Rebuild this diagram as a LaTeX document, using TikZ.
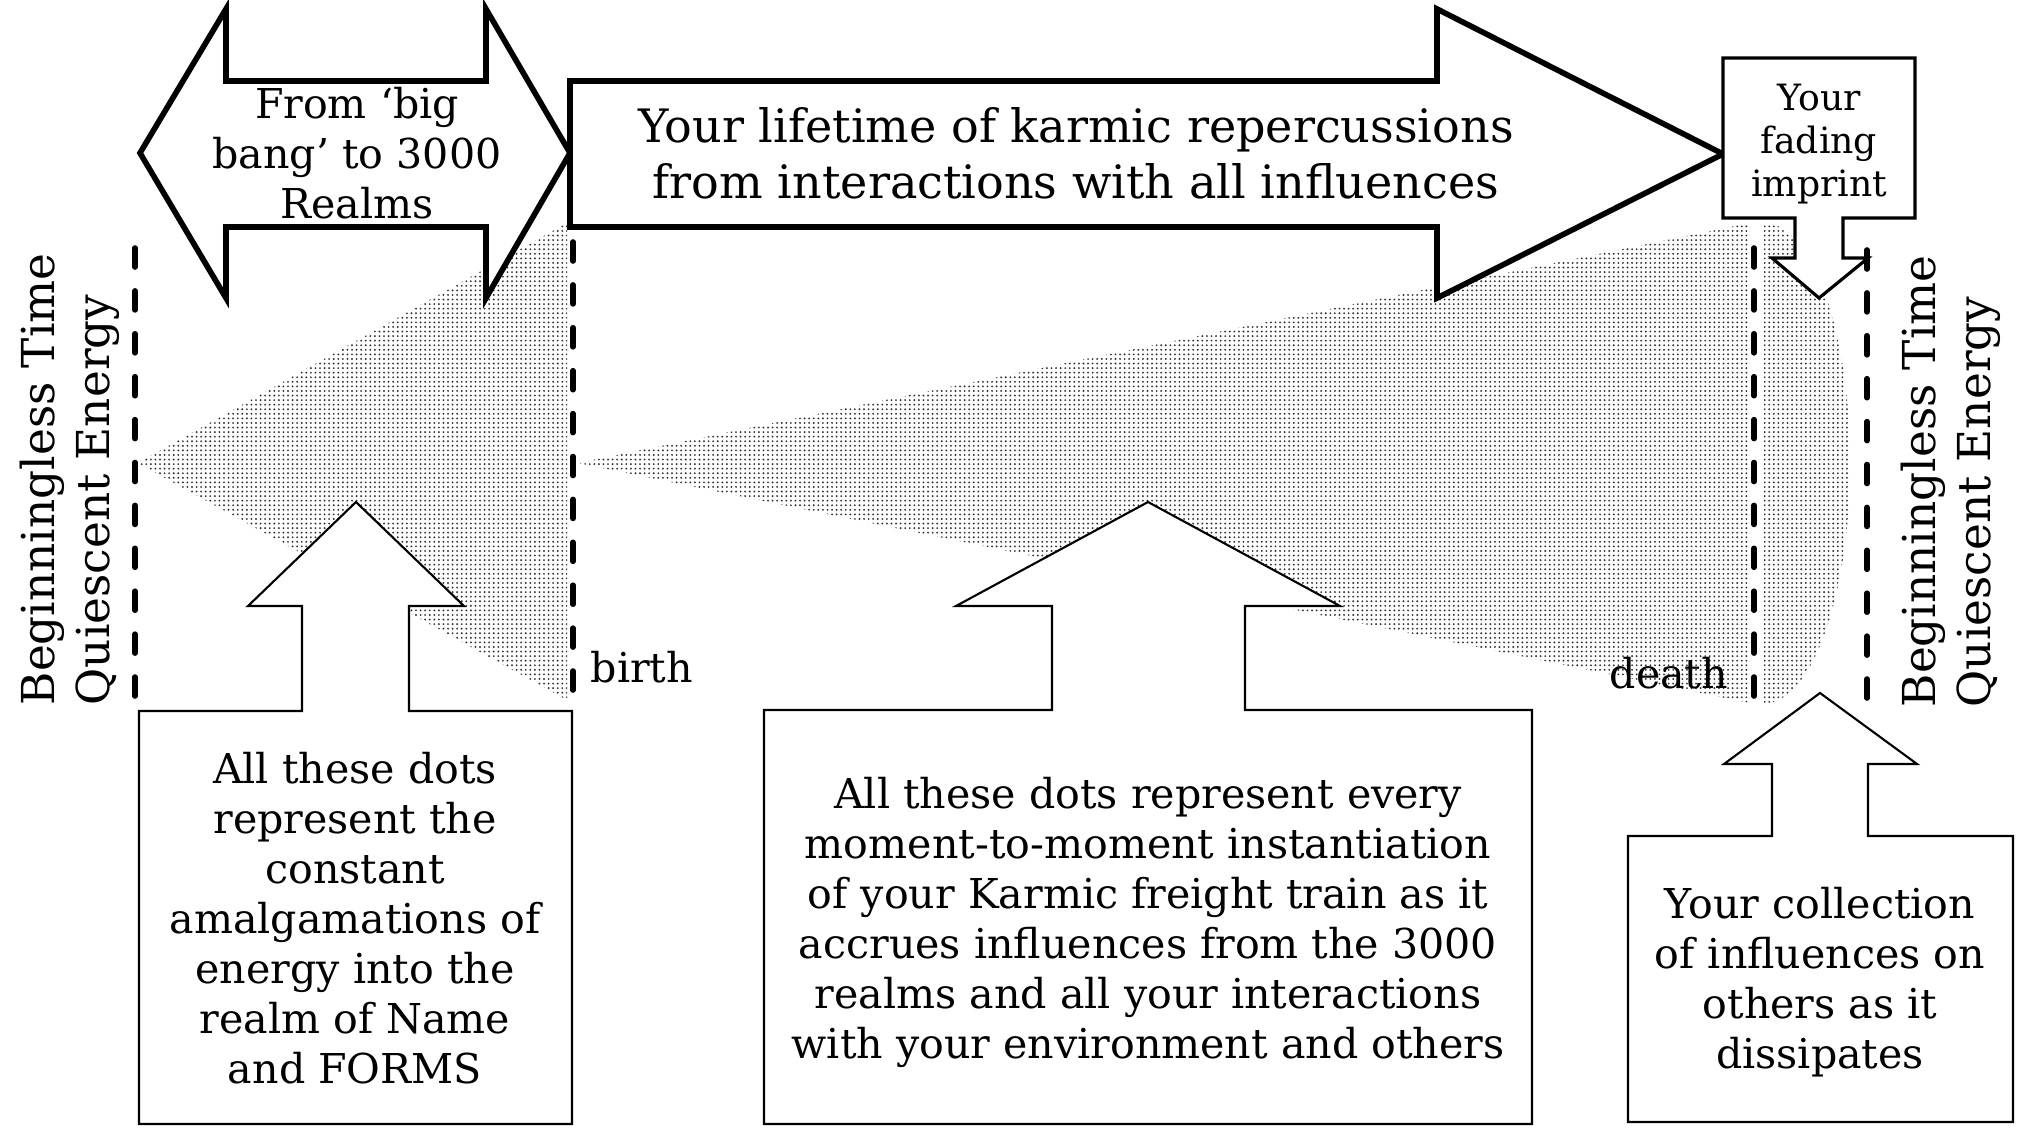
\documentclass[tikz,border=0pt]{standalone}
\usepackage{fontspec}
\setmainfont{DejaVu Serif}
\usetikzlibrary{patterns.meta}

\begin{document}
\begin{tikzpicture}[
    x=0.01cm, y=-0.01cm,
    blockarrow/.style={
        draw=black,
        fill=white,
        line width=1.6pt,
        line join=miter
    },
    imprintarrow/.style={
        draw=black,
        fill=white,
        line width=0.9pt
    },
    callout/.style={
        draw=black,
        fill=white,
        line width=0.6pt
    },
    timeline/.style={
        draw=black,
        line width=1.6pt,
        line cap=round,
        dash pattern=on 5.4pt off 6.8pt
    },
    dotfill/.style={
        pattern={Dots[distance=1.3pt, radius=0.3pt]},
        pattern color=black!80
    },
    bodytxt/.style={
        font=\fontsize{11.7}{14.2}\selectfont,
        align=center,
        inner sep=0pt
    },
    headtxt/.style={
        font=\fontsize{13.1}{15.8}\selectfont,
        align=center,
        inner sep=0pt
    },
    smalltxt/.style={
        font=\fontsize{10.3}{12.3}\selectfont,
        align=center,
        inner sep=0pt
    },
    sidetxt/.style={
        font=\fontsize{12.9}{15.6}\selectfont,
        align=left,
        inner sep=0pt,
        rotate=90,
        anchor=west
    }
]
\useasboundingbox (0,0) rectangle (2019,1127);

% Dotted regions
\fill [dotfill] (138,463) -- (567,223) -- (567,700) -- cycle;
\fill [dotfill] (578,463) -- (1750,223) -- (1750,703) -- cycle;
\fill [dotfill] (1764,223) arc[start angle=90, end angle=-90, x radius=0.86cm, y radius=2.4cm] -- cycle;

% Time markers
\draw [timeline] (135,248) -- (135,699);
\draw [timeline] (573,242) -- (573,697);
\draw [timeline] (1754,248) -- (1754,698);
\draw [timeline] (1867,250) -- (1867,698);

% Block arrows
\draw [blockarrow] (140,153) -- (226,9) -- (226,81) -- (486,81) -- (486,9) -- (570,153)
    -- (486,298) -- (486,227) -- (226,227) -- (226,298) -- cycle;
\draw [blockarrow] (570,81) -- (1437,81) -- (1437,9) -- (1723,154) -- (1437,298)
    -- (1437,227) -- (570,227) -- cycle;
\draw [imprintarrow] (1723,58) -- (1915,58) -- (1915,218) -- (1843,218) -- (1843,258)
    -- (1868,258) -- (1819,298) -- (1772,258) -- (1795,258) -- (1795,218) -- (1723,218) -- cycle;

% Callouts
\draw [callout] (139,711) -- (302,711) -- (302,606) -- (248,606) -- (356,502) -- (464,606)
    -- (409,606) -- (409,711) -- (572,711) -- (572,1124) -- (139,1124) -- cycle;
\draw [callout] (764,710) -- (1052,710) -- (1052,606) -- (956,606) -- (1148,502) -- (1340,606)
    -- (1245,606) -- (1245,710) -- (1532,710) -- (1532,1124) -- (764,1124) -- cycle;
\draw [callout] (1628,836) -- (1772,836) -- (1772,764) -- (1724,764) -- (1820,693) -- (1917,764)
    -- (1868,764) -- (1868,836) -- (2013,836) -- (2013,1122) -- (1628,1122) -- cycle;

% Texts
\node (bang) [bodytxt, anchor=north] at (357,87) {From ‘big\\bang’ to 3000\\Realms};
\node (lifetime) [headtxt, anchor=north] at (1076,107) {Your lifetime of karmic repercussions\\from interactions with all influences};
\node (imprint) [smalltxt, anchor=north] at (1819,83) {Your\\fading\\imprint};
\node (birth) [bodytxt, anchor=base west] at (590,682) {birth};
\node (death) [bodytxt, anchor=base west] at (1609,688) {death};
\node (leftedge) [sidetxt] at (70,706) {Beginningless Time\\Quiescent Energy};
\node (rightedge) [sidetxt] at (1951,708) {Beginningless Time\\Quiescent Energy};
\node (forms) [bodytxt, anchor=north] at (355,752) {All these dots\\represent the\\constant\\amalgamations of\\energy into the\\realm of Name\\and FORMS};
\node (train) [bodytxt, anchor=north] at (1148,777) {All these dots represent every\\moment-to-moment instantiation\\of your Karmic freight train as it\\accrues influences from the 3000\\realms and all your interactions\\with your environment and others};
\node (dissipate) [bodytxt, anchor=north] at (1820,887) {Your collection\\of influences on\\others as it\\dissipates};

\end{tikzpicture}
\end{document}
